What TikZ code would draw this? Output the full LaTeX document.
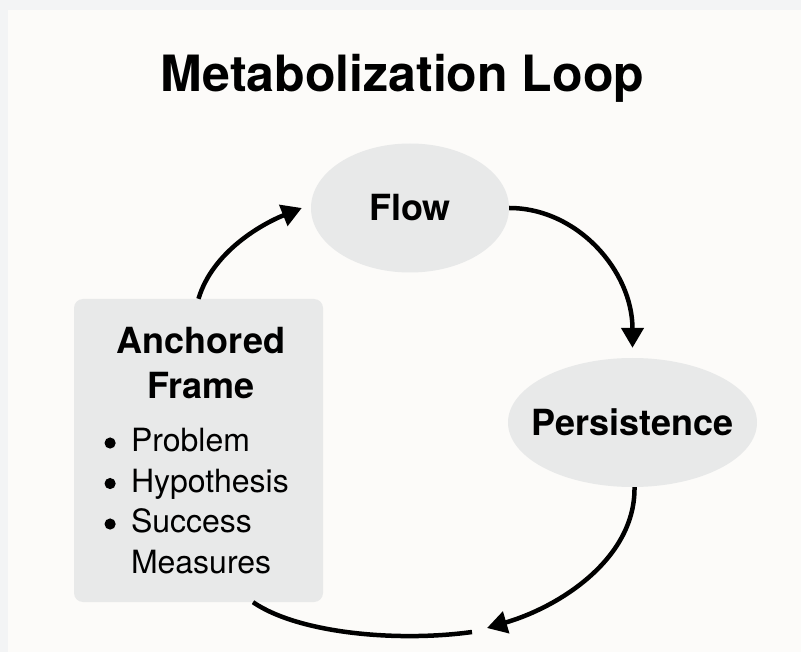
\documentclass[tikz,border=0pt]{standalone}
\usepackage{fontspec}
\setmainfont{TeX Gyre Heros}
\usetikzlibrary{shapes.geometric,arrows.meta,calc}
\setlength{\parindent}{0pt}

\definecolor{edgecol}{HTML}{F3F4F5}
\definecolor{pagecol}{HTML}{FCFBF9}
\definecolor{shapecol}{HTML}{E8E9E9}

% round list marker, drawn as a filled dot
\newcommand{\listdot}{\makebox[27pt][l]{\hspace*{0.5pt}\raisebox{3pt}{\tikz\fill (0,0) circle (5.6pt);}}}

\tikzset{
  loopnode/.style={ellipse, fill=shapecol, inner sep=0pt,
    label={[font=\fontsize{36}{43}\selectfont\bfseries]center:#1}},
  framebox/.style={rectangle, rounded corners=9pt, fill=shapecol,
    minimum width=249pt, minimum height=303pt, text width=189pt,
    inner xsep=30pt, inner ysep=0pt},
  looparrow/.style={line width=4.5pt,
    -{Triangle[length=20pt,width=22pt]}},
  loopline/.style={line width=4.5pt}
}

\begin{document}
\begin{tikzpicture}[x=1pt,y=-1pt]
  % page
  \useasboundingbox (0,0) rectangle (801,652);
  \fill[edgecol] (0,0) rectangle (801,652);
  \fill[pagecol] (8,10) rectangle (801,652);

  % title
  \node[anchor=base, inner sep=0pt, font=\fontsize{50}{60}\selectfont\bfseries]
    (title) at (402.5,92) {Metabolization Loop};

  % the three stages
  \node[loopnode=Flow, minimum width=198pt, minimum height=129pt]
    (flow) at (410,208) {};
  \node[loopnode=Persistence, minimum width=249pt, minimum height=129pt]
    (persist) at (632.5,422.5) {};
  \node[framebox] (frame) at (198.5,450.5) {%
    {\centering\fontsize{36}{45}\selectfont\bfseries
     \hspace*{5pt}Anchored\\\hspace*{5pt}Frame\par}
    \vspace{12.5pt}
    {\raggedright\fontsize{32}{40.5}\selectfont
     \listdot Problem\\
     \listdot Hypothesis\\
     \listdot Success\\
     \hspace*{27pt}Measures\par}%
  };

  % free ends of the return path
  \coordinate (rethead) at (487,628);
  \coordinate (rettail) at (472,632);

  % connectors
  \draw[looparrow] (frame.north)
    .. controls +(14,-47) and +(-40,16) .. ($(flow.west)+(-9,0)$);
  \draw[looparrow] (flow.east)
    .. controls +(68,0) and +(0,-77) .. ($(persist.north)+(0,-10)$);
  \draw[looparrow] ($(persist.south)+(2,0)$)
    .. controls +(1,70) and +(75,-22) .. (rethead);
  \draw[loopline] (rettail)
    .. controls +(-72,10) and +(47,32) .. ($(frame.south)+(54.5,0)$);
\end{tikzpicture}
\end{document}
